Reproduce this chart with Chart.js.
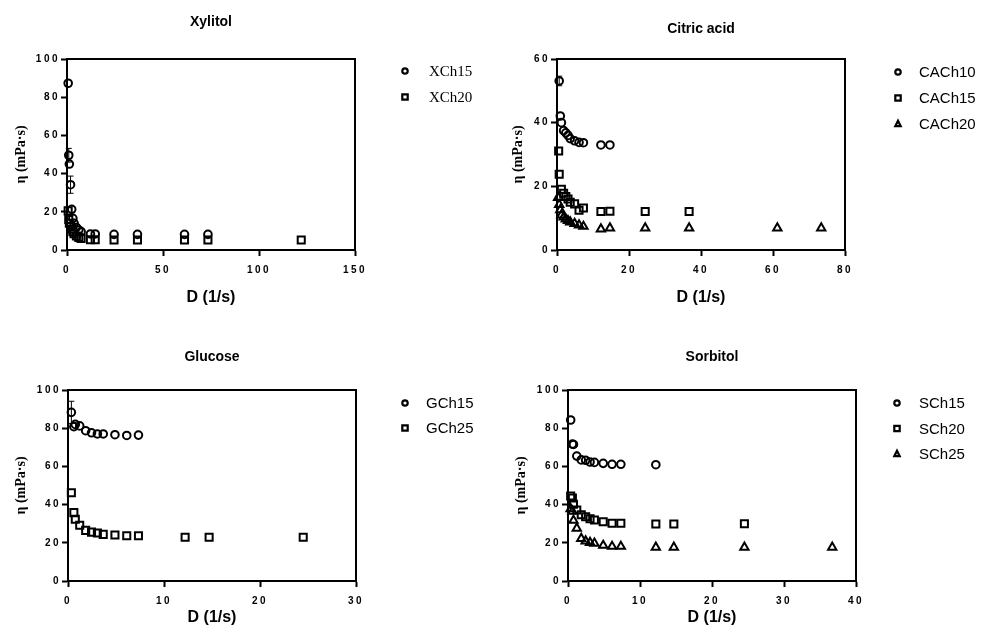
<!DOCTYPE html>
<html>
<head>
<meta charset="utf-8">
<script src="https://cdn.jsdelivr.net/npm/chart.js@4.4.0/dist/chart.umd.min.js"></script>
<style>
  body { margin: 0; background: #fff; }
  canvas { position: absolute; }
</style>
</head>
<body>
<canvas id="xyl" width="490" height="316" style="left:0;top:0"></canvas>
<canvas id="cit" width="490" height="316" style="left:490px;top:0"></canvas>
<canvas id="glu" width="490" height="316" style="left:0;top:316px"></canvas>
<canvas id="sor" width="490" height="316" style="left:490px;top:316px"></canvas>
<script>
// shear rates (1/s) and viscosities (mPa·s)
var xylD = [0.61, 0.92, 1.22, 1.84, 2.45, 3.06, 3.67, 4.89, 6.12, 7.34, 12.2, 14.7, 24.5, 36.7, 61.2, 73.4, 122];
var xch15 = [87.3, 49.6, 45.0, 34.2, 21.3, 16.6, 14.0, 11.8, 10.5, 9.6, 8.4, 8.4, 8.2, 8.2, 8.2, 8.2];
var xch15Err = [0, 3.6, 0, 4.5, 0];
var xch20 = [20.5, 16.0, 14.0, 12.4, 11.0, 9.6, 8.5, 7.3, 6.5, 6.0, 5.4, 5.4, 5.2, 5.2, 5.2, 5.2, 5.2];

var citD10 = [0.61, 0.92, 1.22, 1.84, 2.45, 3.06, 3.67, 4.89, 6.12, 7.34, 12.2, 14.7];
var cach10 = [53.1, 42.1, 40.0, 37.5, 36.8, 36.0, 35.0, 34.3, 33.8, 33.7, 33.0, 33.0];
var cach10Err = [1.5];
var citD15 = [0.46, 0.61, 1.22, 1.84, 2.45, 3.06, 3.67, 4.89, 6.12, 7.34, 12.2, 14.7, 24.5, 36.7];
var cach15 = [31.1, 23.8, 19.1, 17.8, 16.8, 16.0, 15.0, 14.5, 12.5, 13.2, 12.1, 12.2, 12.1, 12.1];
var citD20 = [0.31, 0.61, 0.92, 1.22, 1.84, 2.45, 3.06, 3.67, 4.89, 6.12, 7.34, 12.2, 14.7, 24.5, 36.7, 61.2, 73.4];
var cach20 = [16.5, 14.3, 12.6, 11.0, 10.3, 9.7, 9.2, 8.8, 8.3, 7.8, 7.4, 6.6, 6.9, 6.9, 6.9, 6.9, 6.9];

var gluD = [0.35, 0.61, 0.76, 1.22, 1.84, 2.45, 3.06, 3.67, 4.89, 6.12, 7.34, 12.2, 14.7, 24.5];
var gch15 = [88.3, 80.8, 82.0, 81.2, 78.7, 77.6, 77.0, 77.0, 76.6, 76.2, 76.4];
var gch15Err = [5.8];
var gch25 = [46.2, 35.8, 32.3, 29.2, 26.5, 25.6, 25.1, 24.4, 24.1, 23.7, 23.7, 22.9, 22.9, 22.9];

var sorD = [0.37, 0.61, 0.76, 1.22, 1.84, 2.45, 3.06, 3.67, 4.89, 6.12, 7.34, 12.2, 14.7, 24.5, 36.7];
var sch15 = [84.3, 71.7, 71.5, 65.4, 63.4, 63.2, 62.3, 62.1, 61.6, 61.1, 61.1, 60.9];
var sch20 = [44.5, 43.5, 40.2, 37.2, 34.7, 33.6, 32.6, 31.9, 31.0, 30.2, 30.2, 29.8, 29.8, 30.0];
var sch25 = [37.8, 36.5, 31.7, 27.6, 22.2, 20.9, 20.1, 19.7, 18.6, 18.1, 18.1, 17.6, 17.6, 17.6, 17.6];

var SANS = 'Liberation Sans, Arial, sans-serif';
var SERIF = 'Liberation Serif, Times New Roman, serif';
Chart.defaults.color = '#000';
Chart.defaults.font.family = SANS;

function points(xs, ys) {
    return ys.map(function(v, i) { return { x: xs[i], y: v }; });
}

function drawMarker(ctx, style, x, y, r) {
    ctx.beginPath();
    if (style === 'circle') {
        ctx.arc(x, y, r, 0, Math.PI * 2);
    } else if (style === 'rect') {
        ctx.rect(x - r, y - r, 2 * r, 2 * r);
    } else {
        ctx.moveTo(x, y - r - 0.5);
        ctx.lineTo(x + r, y + r - 0.5);
        ctx.lineTo(x - r, y + r - 0.5);
        ctx.closePath();
    }
    ctx.stroke();
}

// box around the plot area
var frame = {
    id: 'frame',
    afterDatasetsDraw: function(chart) {
        var a = chart.chartArea, ctx = chart.ctx;
        ctx.save();
        ctx.strokeStyle = '#000';
        ctx.lineWidth = 2;
        ctx.strokeRect(a.left, a.top, a.right - a.left, a.bottom - a.top);
        ctx.restore();
    }
};

// vertical error bars from dataset.errors
var errorBars = {
    id: 'errorBars',
    afterDatasetsDraw: function(chart) {
        var ctx = chart.ctx, xs = chart.scales.x, ys = chart.scales.y;
        ctx.save();
        ctx.strokeStyle = '#000';
        ctx.lineWidth = 1;
        chart.data.datasets.forEach(function(ds) {
            if (!ds.errors) return;
            ds.errors.forEach(function(e, i) {
                if (!e) return;
                var p = ds.data[i];
                var x = xs.getPixelForValue(p.x);
                var t = ys.getPixelForValue(p.y + e), b = ys.getPixelForValue(p.y - e);
                ctx.beginPath();
                ctx.moveTo(x, t); ctx.lineTo(x, b);
                ctx.moveTo(x - 3, t); ctx.lineTo(x + 3, t);
                ctx.moveTo(x - 3, b); ctx.lineTo(x + 3, b);
                ctx.stroke();
            });
        });
        ctx.restore();
    }
};

// legend to the right of the plot
var sideLegend = {
    id: 'sideLegend',
    afterDraw: function(chart, args, o) {
        var ctx = chart.ctx;
        ctx.save();
        ctx.strokeStyle = '#000';
        ctx.fillStyle = '#000';
        ctx.lineWidth = 2.2;
        ctx.font = '15px ' + o.family;
        ctx.textBaseline = 'middle';
        chart.data.datasets.forEach(function(ds, i) {
            var y = o.y + i * o.gap;
            drawMarker(ctx, ds.pointStyle, o.x, y, 2.7);
            ctx.fillText(ds.label, o.x + o.textGap, y + 1);
        });
        ctx.restore();
    }
};

// wider spacing on tick numbers
var spacedTicks = {
    id: 'spacedTicks',
    afterLayout: function(chart) {
        Object.values(chart.scales).forEach(function(scale) {
            if (scale._spaced) return;
            var draw = scale.drawLabels;
            scale.drawLabels = function(area) {
                chart.ctx.save();
                chart.ctx.letterSpacing = '2.5px';
                draw.call(scale, area);
                chart.ctx.restore();
            };
            scale._spaced = true;
        });
    }
};

var pointSize = { circle: 3.8, rect: 5, triangle: 4.8 };

function makeChart(id, p) {
    var datasets = p.series.map(function(s) {
        return {
            label: s.label,
            data: points(s.x, s.y),
            errors: s.err,
            pointStyle: s.style,
            pointRadius: pointSize[s.style],
            pointBorderWidth: 2,
            borderColor: '#000',
            backgroundColor: 'rgba(0,0,0,0)',
            showLine: false,
            clip: false
        };
    });
    var tickFont = { family: SANS, size: 10, weight: 'bold' };
    new Chart(document.getElementById(id), {
        type: 'scatter',
        data: { datasets: datasets },
        options: {
            responsive: false,
            animation: false,
            events: [],
            layout: { padding: { left: 0, right: p.padRight, top: 0, bottom: 0 } },
            plugins: {
                legend: { display: false },
                tooltip: { enabled: false },
                title: {
                    display: true,
                    fullSize: false,
                    text: p.title,
                    font: { family: SANS, size: 14, weight: 'bold' },
                    padding: { top: p.titleTop, bottom: p.titleBottom }
                },
                sideLegend: p.legend
            },
            scales: {
                x: {
                    type: 'linear',
                    min: 0,
                    max: p.xMax,
                    ticks: { stepSize: p.xStep, font: tickFont, padding: 8, maxRotation: 0 },
                    grid: { drawOnChartArea: false, tickLength: 6, tickWidth: 2, tickColor: '#000' },
                    border: { color: '#000', width: 2 },
                    title: {
                        display: true,
                        text: 'D (1/s)',
                        font: { family: SANS, size: 16, weight: 'bold' },
                        padding: { top: 0, bottom: p.xTitlePad }
                    },
                    afterFit: function(s) { s.height = p.xAxisH; }
                },
                y: {
                    min: 0,
                    max: p.yMax,
                    ticks: { stepSize: 20, font: tickFont, padding: 1 },
                    grid: { drawOnChartArea: false, tickLength: 6, tickWidth: 2, tickColor: '#000' },
                    border: { color: '#000', width: 2 },
                    title: {
                        display: true,
                        text: 'η (mPa·s)',
                        font: { family: SERIF, size: 14, weight: 'bold' },
                        padding: { top: p.yTitlePad, bottom: 0 }
                    },
                    afterFit: function(s) { s.width = p.yAxisW; }
                }
            }
        },
        plugins: [spacedTicks, frame, errorBars, sideLegend]
    });
}

makeChart('xyl', {
    title: 'Xylitol', titleTop: 13.6, titleBottom: 28.6,
    xMax: 150, xStep: 50, yMax: 100,
    yAxisW: 67, padRight: 135, xAxisH: 66, xTitlePad: 9, yTitlePad: 13,
    legend: { x: 405, y: 71, gap: 26, textGap: 24, family: SERIF },
    series: [
        { label: 'XCh15', x: xylD, y: xch15, err: xch15Err, style: 'circle' },
        { label: 'XCh20', x: xylD, y: xch20, style: 'rect' }
    ]
});

makeChart('cit', {
    title: 'Citric acid', titleTop: 20.6, titleBottom: 21.6,
    xMax: 80, xStep: 20, yMax: 60,
    yAxisW: 67, padRight: 135, xAxisH: 66, xTitlePad: 9, yTitlePad: 20,
    legend: { x: 408, y: 72, gap: 26, textGap: 21, family: SANS },
    series: [
        { label: 'CACh10', x: citD10, y: cach10, err: cach10Err, style: 'circle' },
        { label: 'CACh15', x: citD15, y: cach15, style: 'rect' },
        { label: 'CACh20', x: citD20, y: cach20, style: 'triangle' }
    ]
});

makeChart('glu', {
    title: 'Glucose', titleTop: 32.6, titleBottom: 24.6,
    xMax: 30, xStep: 10, yMax: 100,
    yAxisW: 68, padRight: 134, xAxisH: 51, xTitlePad: 5, yTitlePad: 13,
    legend: { x: 405, y: 87, gap: 25, textGap: 21, family: SANS },
    series: [
        { label: 'GCh15', x: gluD, y: gch15, err: gch15Err, style: 'circle' },
        { label: 'GCh25', x: gluD, y: gch25, style: 'rect' }
    ]
});

makeChart('sor', {
    title: 'Sorbitol', titleTop: 32.6, titleBottom: 24.6,
    xMax: 40, xStep: 10, yMax: 100,
    yAxisW: 78, padRight: 124, xAxisH: 51, xTitlePad: 5, yTitlePad: 23,
    legend: { x: 407, y: 87, gap: 25.5, textGap: 22, family: SANS },
    series: [
        { label: 'SCh15', x: sorD, y: sch15, style: 'circle' },
        { label: 'SCh20', x: sorD, y: sch20, style: 'rect' },
        { label: 'SCh25', x: sorD, y: sch25, style: 'triangle' }
    ]
});
</script>
</body>
</html>
